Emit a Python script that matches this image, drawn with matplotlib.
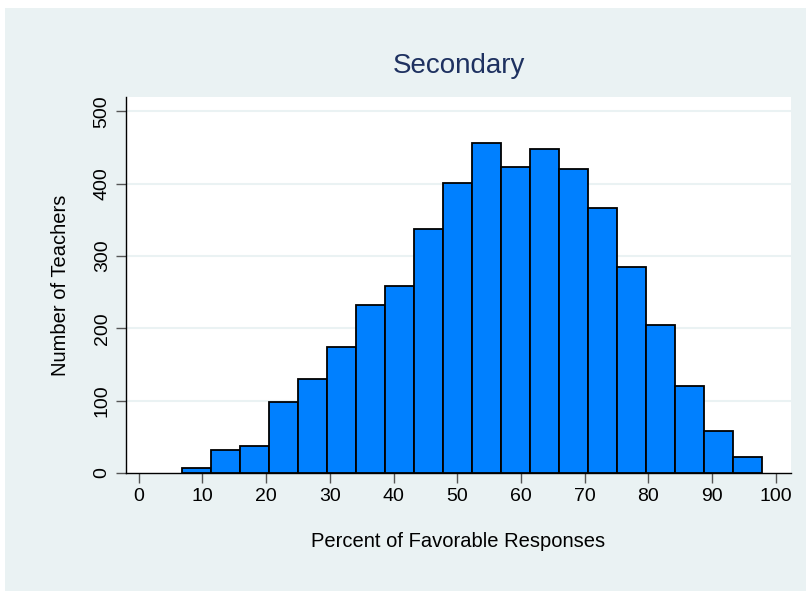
import numpy as np
from matplotlib import pyplot as plt
from matplotlib.patches import Rectangle

# histogram: 20 bins of equal width
bin_start = 6.82
bin_width = 4.55
counts = [7, 32, 37, 98, 130, 174, 233, 258, 338, 401,
          456, 423, 448, 421, 367, 285, 205, 120, 58, 22]
xticks = [0, 10, 20, 30, 40, 50, 60, 70, 80, 90, 100]
yticks = [0, 100, 200, 300, 400, 500]

bg = '#eaf2f3'
plt.rcParams['font.family'] = ['Liberation Sans', 'DejaVu Sans']

fig = plt.figure(figsize=(8.06, 5.91), dpi=100)
fig.patches.append(Rectangle((5 / 806, 0), 1, 1 - 8 / 591, transform=fig.transFigure,
                             facecolor=bg, edgecolor='none', zorder=-10))

ax = fig.add_axes([126 / 806, 118 / 591, 665 / 806, 376 / 591])
ax.set_facecolor('white')

lefts = bin_start + bin_width * np.arange(len(counts))
ax.bar(lefts, counts, width=bin_width, align='edge', color='#0080ff',
       edgecolor='black', linewidth=1.3, zorder=3)

ax.set_xlim(-2.0, 102.4)
ax.set_ylim(0, 520)
ax.set_xticks(xticks)
ax.set_yticks(yticks)
for y in yticks[1:]:
    ax.axhline(y, color=bg, linewidth=1.5, zorder=1)

ax.spines['top'].set_visible(False)
ax.spines['right'].set_visible(False)
ax.spines['left'].set_linewidth(1.0)
ax.spines['bottom'].set_linewidth(1.0)
ax.tick_params(axis='both', direction='out', length=7, width=1.0, color='#555555',
               labelsize=14, pad=4)
plt.setp(ax.get_yticklabels(), rotation=90, va='center')

ax.set_title('Secondary', fontsize=20, color='#1e3160', pad=17)
ax.set_xlabel('Percent of Favorable Responses', fontsize=14.5, labelpad=19)
ax.set_ylabel('Number of Teachers', fontsize=14.5, labelpad=17)

fig.savefig('out.png', dpi=100)
